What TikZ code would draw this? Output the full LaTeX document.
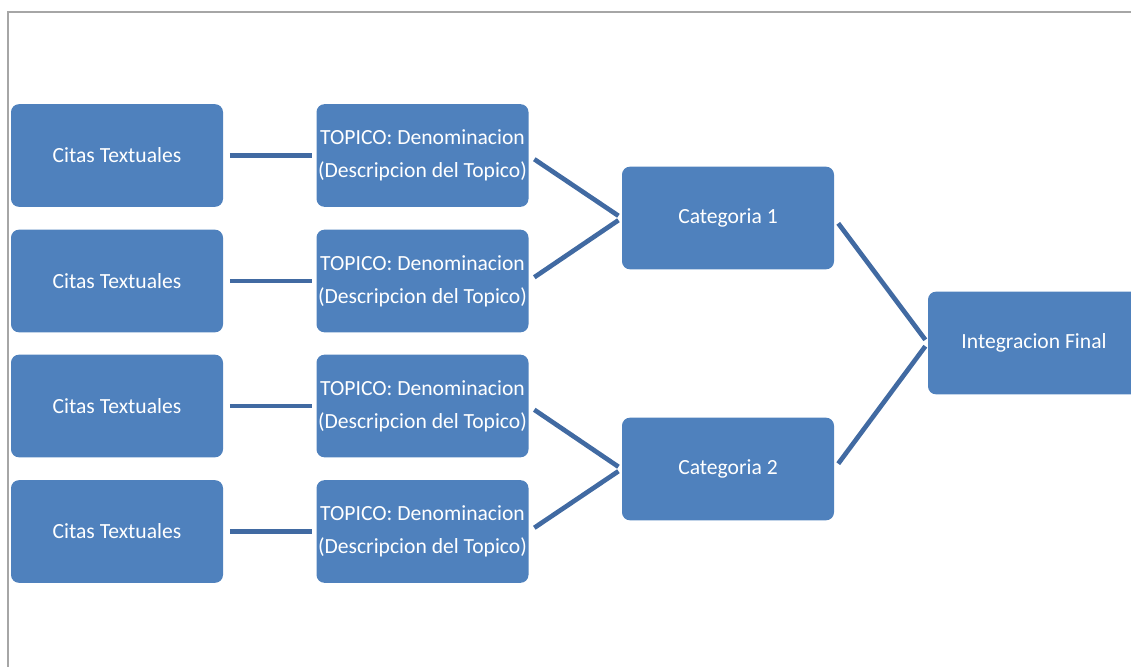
\documentclass[tikz,border=0pt]{standalone}
\usepackage{fontspec}
\setmainfont{Carlito}
\usepackage{xcolor}
\usetikzlibrary{positioning}

\definecolor{boxblue}{RGB}{79,129,189}
\definecolor{linkblue}{RGB}{65,106,162}
\definecolor{framegray}{RGB}{166,166,166}

\begin{document}
\begin{tikzpicture}[
  x=0.75pt, y=-0.75pt,
  font=\fontsize{16.2}{24.75}\selectfont,
  smartbox/.style={
    rectangle,
    rounded corners=6pt,
    fill=boxblue,
    text=white,
    align=center,
    inner sep=0pt,
    minimum width=159pt,
    minimum height=77pt
  },
  link/.style={line width=3.5pt, draw=linkblue, shorten <=5pt, shorten >=3pt}
]
  \useasboundingbox (0,0) rectangle (1131,667);
  \draw[framegray, line width=0.8pt] (8,667) -- (8,12) -- (1131,12);

  \node[smartbox] (cita1)  at (117,155.5) {Citas Textuales};
  \node[smartbox] (cita2)  at (117,281)   {Citas Textuales};
  \node[smartbox] (cita3)  at (117,406)   {Citas Textuales};
  \node[smartbox] (cita4)  at (117,531.5) {Citas Textuales};

  \node[smartbox] (topic1) at (422.5,155.5) {TOPICO: Denominacion\\(Descripcion del Topico)};
  \node[smartbox] (topic2) at (422.5,281)   {TOPICO: Denominacion\\(Descripcion del Topico)};
  \node[smartbox] (topic3) at (422.5,406)   {TOPICO: Denominacion\\(Descripcion del Topico)};
  \node[smartbox] (topic4) at (422.5,531.5) {TOPICO: Denominacion\\(Descripcion del Topico)};

  \node[smartbox] (cat1)   at (728,218)   {Categoria 1};
  \node[smartbox] (cat2)   at (728,469)   {Categoria 2};

  \node[smartbox] (final)  at (1034,343)  {Integracion Final};

  \draw[link] (cita1) -- (topic1);
  \draw[link] (cita2) -- (topic2);
  \draw[link] (cita3) -- (topic3);
  \draw[link] (cita4) -- (topic4);

  \draw[link] (topic1.east) -- (cat1.west);
  \draw[link] (topic2.east) -- (cat1.west);
  \draw[link] (topic3.east) -- (cat2.west);
  \draw[link] (topic4.east) -- (cat2.west);

  \draw[link] (cat1.east) -- (final.west);
  \draw[link] (cat2.east) -- (final.west);
\end{tikzpicture}
\end{document}
